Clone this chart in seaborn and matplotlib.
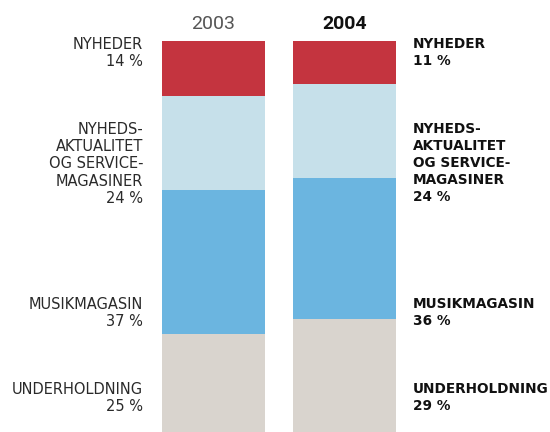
import pandas as pd
import seaborn as sns
import matplotlib.pyplot as plt

# data
years = ['2003', '2004']
kategorier = ['NYHEDER', 'NYHEDSAKTUALITET', 'MUSIKMAGASIN', 'UNDERHOLDNING']
andel_2003 = [14, 24, 37, 25]
andel_2004 = [11, 24, 36, 29]
etiketter = ['NYHEDER', 'NYHEDS-\nAKTUALITET\nOG SERVICE-\nMAGASINER', 'MUSIKMAGASIN', 'UNDERHOLDNING']
farver = ['#c4343f', '#c6e0ea', '#6bb5e0', '#d9d4ce']

sns.set_style('white')
plt.rcParams['font.family'] = ['DejaVu Sans']

df = pd.DataFrame({'aar': years * 4,
                   'kategori': [k for k in kategorier for _ in years],
                   'andel': [v for pair in zip(andel_2003, andel_2004) for v in pair]})
df['kumulativ'] = df.groupby('aar')['andel'].cumsum()

fig = plt.figure(figsize=(5.5, 4.32), dpi=100)
ax = fig.add_axes([0, 0, 1, 1 - 41 / 432])

# stacked from the top: draw the longest cumulative bar first
for kat, farve in reversed(list(zip(kategorier, farver))):
    sub = df[df['kategori'] == kat]
    sns.barplot(data=sub, x='aar', y='kumulativ', order=years, color=farve,
                width=103 / 131, saturation=1, linewidth=0, ax=ax)

ax.set_xlim(-213.5 / 131, (550 - 213.5) / 131)
ax.set_ylim(100, 0)
ax.axis('off')

# label block tops (percent from bar top)
label_y = [-1.0, 20.7, 65.5, 87.2]
for etiket, y, v03, v04 in zip(etiketter, label_y, andel_2003, andel_2004):
    ax.text(-0.538, y, f'{etiket}\n{v03} %', ha='right', va='top', fontsize=10.5,
            color='#2a2a2a', linespacing=1.19, clip_on=False)
    ax.text(1.523, y, f'{etiket}\n{v04} %', ha='left', va='top', fontsize=9.8,
            color='#111111', fontweight='bold', linespacing=1.28, clip_on=False)

ax.text(0, -4.35, years[0], ha='center', va='center', fontsize=14, color='#555555',
        family='Roboto', clip_on=False)
ax.text(1, -4.35, years[1], ha='center', va='center', fontsize=14, color='#111111',
        family='Roboto', fontweight='bold', clip_on=False)

fig.savefig('out.png', dpi=100)
